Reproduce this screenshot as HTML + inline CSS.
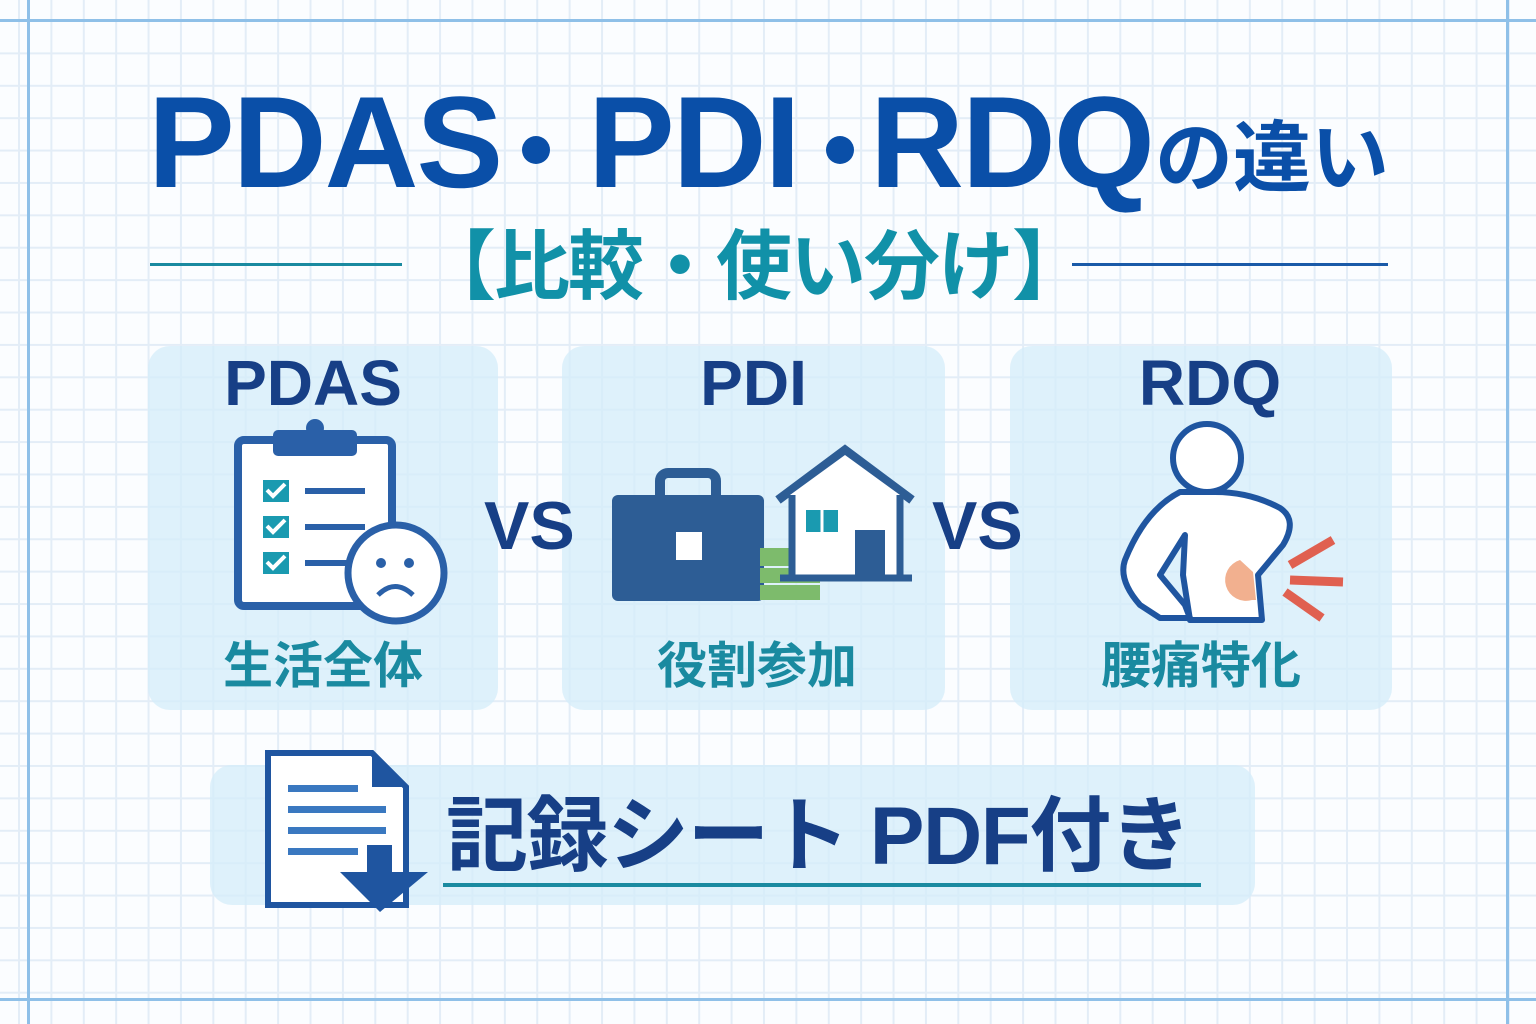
<!DOCTYPE html>
<html><head><meta charset="utf-8"><style>
body{margin:0}
#c{position:relative;width:1536px;height:1024px;overflow:hidden;background-color:#fbfdff;
background-image:linear-gradient(#e3edf7 2px,transparent 2px),linear-gradient(90deg,#e3edf7 2px,transparent 2px);
background-size:32.4px 32.4px;background-position:18px 20px;font-family:"Liberation Sans","Noto Sans CJK JP",sans-serif}
.a{position:absolute;white-space:nowrap}
.p{position:absolute;background:rgba(212,236,250,0.75);border-radius:22px}
.lab{font-weight:bold;color:#173f86;font-size:64px;text-align:center}
.jp{font-weight:bold;color:#1a8aa0;font-size:50px;text-align:center}
.vs{font-weight:bold;color:#173f86;font-size:68px}
.t{font-size:130px;line-height:1;font-weight:bold;color:#0a4fa8;top:77px;letter-spacing:-2px}
.dot{position:absolute;width:28px;height:28px;border-radius:50%;background:#0a4fa8}
</style></head><body><div id="c">
<div class="a" style="left:27px;top:0;width:3px;height:1024px;background:#8fc0e8"></div>
<div class="a" style="left:1506px;top:0;width:3px;height:1024px;background:#8fc0e8"></div>
<div class="a" style="left:0;top:19px;width:1536px;height:3px;background:#8fc0e8"></div>
<div class="a" style="left:0;top:998px;width:1536px;height:3px;background:#8fc0e8"></div>

<div class="a t" style="left:148px">PDAS</div>
<div class="dot" style="left:522px;top:136px"></div>
<div class="a t" style="left:588px">PDI</div>
<div class="dot" style="left:826px;top:136px"></div>
<div class="a t" style="left:870px">RDQ</div>
<div class="a" style="left:1155px;top:96px;font-size:78px;font-weight:bold;color:#0a4fa8">の違い</div>

<div class="a" style="left:150px;top:263px;width:252px;height:3px;background:#1a8aa0"></div>
<div class="a" style="left:1072px;top:263px;width:316px;height:3px;background:#1a5aa8"></div>
<div class="a" style="left:420px;top:205px;font-size:76px;font-weight:bold;color:#1191a8;letter-spacing:-2px">【比較・使い分け】</div>

<div class="p" style="left:148px;top:346px;width:350px;height:364px"></div>
<div class="p" style="left:562px;top:346px;width:383px;height:364px"></div>
<div class="p" style="left:1010px;top:346px;width:382px;height:364px"></div>

<div class="a lab" style="left:148px;top:346px;width:330px">PDAS</div>
<div class="a lab" style="left:562px;top:346px;width:383px">PDI</div>
<div class="a lab" style="left:1010px;top:346px;width:400px">RDQ</div>
<div class="a jp" style="left:148px;top:626px;width:350px">生活全体</div>
<div class="a jp" style="left:562px;top:626px;width:390px">役割参加</div>
<div class="a jp" style="left:1010px;top:626px;width:382px">腰痛特化</div>
<div class="a vs" style="left:484px;top:487px">VS</div>
<div class="a vs" style="left:932px;top:487px">VS</div>

<svg class="a" style="left:0;top:0" width="1536" height="1024">
<rect x="238" y="440" width="154" height="166" rx="6" fill="#fff" stroke="#2a60a8" stroke-width="8"/>
<rect x="273" y="430" width="84" height="26" rx="5" fill="#2a60a8"/>
<circle cx="315" cy="428" r="9" fill="#2a60a8"/>
<g fill="#1a9ab0"><rect x="263" y="480" width="26" height="22"/><rect x="263" y="516" width="26" height="22"/><rect x="263" y="552" width="26" height="22"/></g>
<g stroke="#fff" stroke-width="4" fill="none"><path d="M267 490 l6 6 l12 -12"/><path d="M267 526 l6 6 l12 -12"/><path d="M267 562 l6 6 l12 -12"/></g>
<g stroke="#2a60a8" stroke-width="6"><line x1="305" y1="491" x2="365" y2="491"/><line x1="305" y1="527" x2="365" y2="527"/><line x1="305" y1="563" x2="350" y2="563"/></g>
<circle cx="396" cy="573" r="48" fill="#fff" stroke="#2a60a8" stroke-width="7"/>
<circle cx="381" cy="563" r="5" fill="#2a60a8"/><circle cx="409" cy="563" r="5" fill="#2a60a8"/>
<path d="M378 595 Q395 578 413 595" stroke="#2a60a8" stroke-width="5" fill="none"/>
<rect x="660" y="473" width="56" height="30" rx="8" fill="none" stroke="#2d5d95" stroke-width="10"/>
<rect x="612" y="495" width="152" height="106" rx="6" fill="#2d5d95"/>
<rect x="676" y="532" width="26" height="28" fill="#fff"/>
<g fill="#7dbb6c"><rect x="760" y="548" width="40" height="18"/><rect x="760" y="568" width="60" height="15"/><rect x="760" y="585" width="60" height="15"/></g>
<path d="M778 500 L845 450 L912 500" fill="none" stroke="#2d5d95" stroke-width="9"/>
<path d="M790 495 L845 455 L900 495 V575 H790Z" fill="#fff"/>
<line x1="792" y1="495" x2="792" y2="578" stroke="#2d5d95" stroke-width="7"/>
<line x1="900" y1="495" x2="900" y2="578" stroke="#2d5d95" stroke-width="7"/>
<line x1="780" y1="578" x2="912" y2="578" stroke="#2d5d95" stroke-width="7"/>
<rect x="806" y="510" width="32" height="22" fill="#1a9ab0"/><line x1="822" y1="510" x2="822" y2="532" stroke="#fff" stroke-width="3"/>
<rect x="855" y="530" width="30" height="48" fill="#2d5d95"/>
<path d="M1180 492 Q1145 510 1125 560 Q1118 580 1140 605 L1160 618 L1190 618 L1185 605 L1160 575 L1185 535 L1183 575 L1190 620 L1262 620 L1258 575 L1283 545 Q1298 520 1280 508 Q1250 492 1215 492Z" fill="#fff" stroke="#1f55a0" stroke-width="6" stroke-linejoin="round"/>
<circle cx="1207" cy="458" r="34" fill="#fff" stroke="#1f55a0" stroke-width="6"/>
<path d="M1240 560 A20 20 0 0 0 1252 600 L1256 600 L1253 572Z" fill="#f2b08f"/>
<g stroke="#e06050" stroke-width="9"><line x1="1290" y1="565" x2="1333" y2="540"/><line x1="1290" y1="580" x2="1343" y2="582"/><line x1="1285" y1="592" x2="1322" y2="618"/></g>
</svg>

<div class="p" style="left:210px;top:765px;width:1045px;height:140px"></div>
<svg class="a" style="left:0;top:0" width="1536" height="1024">
<path d="M268 753 H372 L406 787 V905 H268Z" fill="#fff" stroke="#1f55a0" stroke-width="6"/>
<path d="M372 753 V787 H406" fill="#1f55a0"/>
<g fill="#3a78c0"><rect x="288" y="785" width="70" height="7"/><rect x="288" y="806" width="98" height="7"/><rect x="288" y="827" width="98" height="7"/><rect x="288" y="848" width="70" height="7"/></g>
<path d="M367 845 H392 V872 H428 L380 912 L340 872 H367Z" fill="#1f55a0"/>
</svg>
<div class="a" style="left:446px;top:769px;font-size:82px;font-weight:bold;color:#173f86;letter-spacing:-1.5px">記録シート PDF付き</div>
<div class="a" style="left:443px;top:883px;width:758px;height:4px;background:#1a8aa0"></div>
</div></body></html>
